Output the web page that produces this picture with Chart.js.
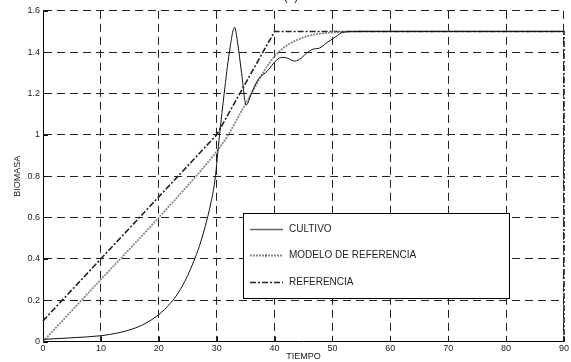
<!DOCTYPE html>
<html>
<head>
<meta charset="utf-8">
<script src="https://cdn.jsdelivr.net/npm/chart.js@4/dist/chart.umd.min.js"></script>
<style>
  html, body { margin: 0; padding: 0; background: #fff; }
  #wrap { width: 571px; height: 362px; position: relative; }
</style>
</head>
<body>
<div id="wrap"><canvas id="biomasaChart" width="571" height="362"></canvas></div>
<script>
// tiempo / biomasa series
var tiempoCultivo = [0, 5, 10, 13, 16, 18, 20, 21, 22, 23, 24, 25, 26, 27, 28, 29, 29.7, 30.5, 31.3, 32.2, 33.1, 33.6, 34.3, 35.1, 36, 37.1, 38.8, 40.3, 41.4, 42.3, 43.4, 44.3, 45.5, 46.6, 47.8, 48.9, 50.6, 51.8, 54, 90];
var biomasaCultivo = [0.01, 0.018, 0.028, 0.042, 0.066, 0.092, 0.13, 0.155, 0.185, 0.22, 0.265, 0.32, 0.385, 0.46, 0.555, 0.67, 0.78, 1.0, 1.2, 1.4, 1.52, 1.45, 1.3, 1.144, 1.2, 1.265, 1.31, 1.36, 1.375, 1.37, 1.357, 1.365, 1.394, 1.414, 1.42, 1.443, 1.475, 1.496, 1.5, 1.5];

var tiempoModelo = [0, 10, 20, 30, 32, 34, 36, 38, 40, 42, 44, 46, 48, 50, 55, 90];
var biomasaModelo = [0, 0.3, 0.6, 0.92, 1.0, 1.1, 1.2, 1.3, 1.38, 1.43, 1.46, 1.48, 1.49, 1.495, 1.5, 1.5];

var tiempoReferencia = [0, 30, 40, 90, 90];
var biomasaReferencia = [0.1, 1.0, 1.5, 1.5, 0];

var ticksTiempo = [0, 10, 20, 30, 40, 50, 60, 70, 80, 90];
var ticksBiomasa = [0, 0.2, 0.4, 0.6, 0.8, 1, 1.2, 1.4, 1.6];

function toPoints(xs, ys) {
    return xs.map(function (x, i) { return { x: x, y: ys[i] }; });
}

var fontFamily = '"Liberation Sans", Arial, sans-serif';

// legend box, inward ticks and the clipped title
var decorPlugin = {
    id: 'decor',
    afterDatasetsDraw: function (chart) {
        var ctx = chart.ctx;
        var area = chart.chartArea;
        var xs = chart.scales.x, ys = chart.scales.y;

        ctx.save();
        ctx.strokeStyle = '#111';
        ctx.lineWidth = 1;
        ctx.setLineDash([]);
        ticksTiempo.forEach(function (t) {
            var px = Math.round(xs.getPixelForValue(t)) + 0.5;
            ctx.beginPath();
            ctx.moveTo(px, area.bottom);
            ctx.lineTo(px, area.bottom - 5);
            ctx.stroke();
        });
        ticksBiomasa.forEach(function (t) {
            var py = Math.round(ys.getPixelForValue(t)) + 0.5;
            ctx.beginPath();
            ctx.moveTo(area.left, py);
            ctx.lineTo(area.left + 5, py);
            ctx.stroke();
        });

        // legend
        var bx = 243.5, by = 213.5, bw = 266, bh = 85;
        ctx.fillStyle = '#fff';
        ctx.fillRect(bx, by, bw, bh);
        ctx.strokeStyle = '#000';
        ctx.strokeRect(bx, by, bw, bh);

        var rows = [229, 255, 282];
        chart.data.datasets.forEach(function (ds, i) {
            var y = rows[i] + 0.5;
            ctx.save();
            ctx.strokeStyle = i === 0 ? '#666' : ds.borderColor;
            ctx.lineWidth = i === 0 ? 1.5 : ds.borderWidth;
            ctx.setLineDash(ds.borderDash || []);
            ctx.beginPath();
            ctx.moveTo(250, y);
            ctx.lineTo(283, y);
            ctx.stroke();
            if (i === 1) {
                ctx.fillStyle = '#666';
                ctx.fillRect(265, y - 1, 2, 2);
            }
            ctx.restore();
            ctx.fillStyle = '#222';
            ctx.font = '10px ' + fontFamily;
            ctx.textBaseline = 'middle';
            ctx.textAlign = 'left';
            ctx.fillText(ds.label, 289, y);
        });

        ctx.fillStyle = '#222';
        ctx.font = '12px ' + fontFamily;
        ctx.textAlign = 'center';
        ctx.textBaseline = 'alphabetic';
        ctx.fillText('(b)', 291, -0.5);
        ctx.restore();
    }
};

new Chart(document.getElementById('biomasaChart').getContext('2d'), {
    type: 'line',
    data: {
        datasets: [{
            label: 'CULTIVO',
            data: toPoints(tiempoCultivo, biomasaCultivo),
            borderColor: '#111',
            borderWidth: 1,
            cubicInterpolationMode: 'monotone',
            pointRadius: 0,
            fill: false
        }, {
            label: 'MODELO DE REFERENCIA',
            data: toPoints(tiempoModelo, biomasaModelo),
            borderColor: '#888',
            borderWidth: 1.8,
            borderDash: [2, 1],
            cubicInterpolationMode: 'monotone',
            pointRadius: 0,
            fill: false
        }, {
            label: 'REFERENCIA',
            data: toPoints(tiempoReferencia, biomasaReferencia),
            borderColor: '#222',
            borderWidth: 1.6,
            borderDash: [6, 2, 2, 2],
            tension: 0,
            pointRadius: 0,
            fill: false
        }]
    },
    options: {
        responsive: false,
        animation: false,
        clip: 4,
        layout: { padding: { top: 10.8, right: 6, left: 0, bottom: 0 } },
        plugins: {
            legend: { display: false },
            tooltip: { enabled: false }
        },
        scales: {
            x: {
                type: 'linear',
                min: 0,
                max: 90,
                afterBuildTicks: function (scale) {
                    scale.ticks = ticksTiempo.map(function (v) { return { value: v }; });
                },
                afterFit: function (scale) { scale.height = 20.5; },
                grid: { color: '#222', lineWidth: 1, drawTicks: false },
                border: { display: true, color: '#000', width: 1, dash: [8, 5] },
                ticks: { color: '#222', padding: 2, font: { family: fontFamily, size: 9 }, maxRotation: 0 },
                title: { display: true, text: 'TIEMPO', color: '#222', padding: 0, font: { family: fontFamily, size: 9 } }
            },
            y: {
                min: 0,
                max: 1.6,
                afterBuildTicks: function (scale) {
                    scale.ticks = ticksBiomasa.map(function (v) { return { value: v }; });
                },
                afterFit: function (scale) { scale.width = 43; },
                grid: { color: '#222', lineWidth: 1, drawTicks: false },
                border: { display: true, color: '#000', width: 1, dash: [8, 5] },
                ticks: {
                    color: '#222', padding: 3, font: { family: fontFamily, size: 9 },
                    callback: function (v) { return String(Math.round(v * 10) / 10); }
                },
                title: { display: true, text: 'BIOMASA', color: '#222', padding: { top: 12, bottom: 0 }, font: { family: fontFamily, size: 9 } }
            }
        }
    },
    plugins: [decorPlugin]
});
</script>
</body>
</html>
